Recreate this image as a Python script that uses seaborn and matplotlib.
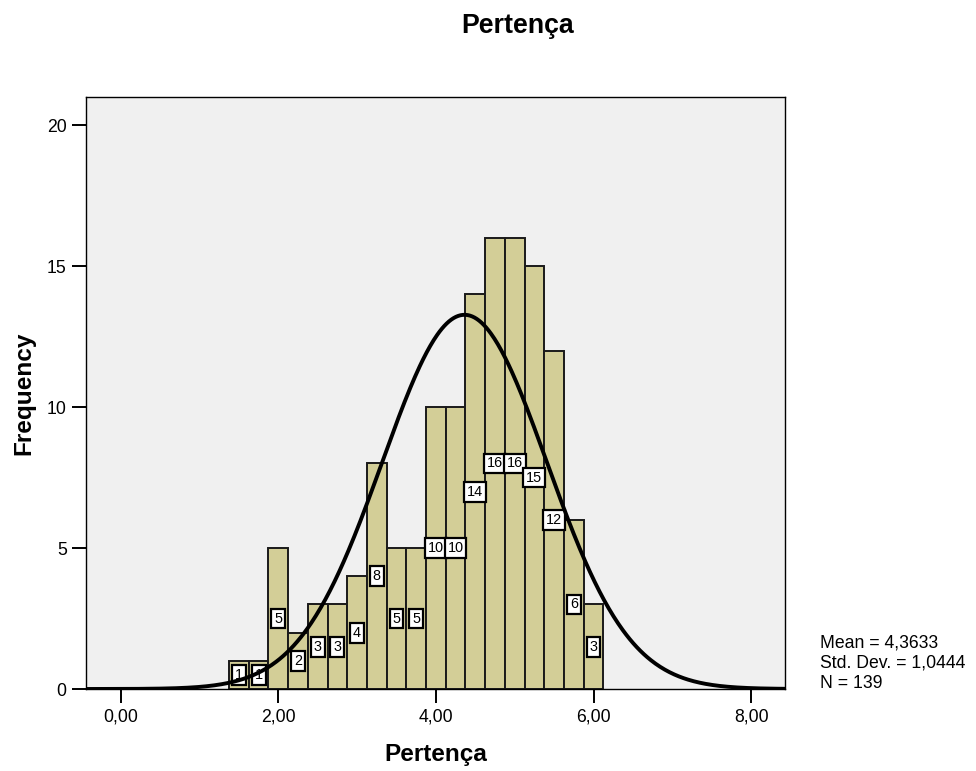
import numpy as np
import pandas as pd
import matplotlib
matplotlib.use("Agg")
import matplotlib.pyplot as plt
import seaborn as sns

# Data
bin_centers = [1.50, 1.75, 2.00, 2.25, 2.50, 2.75, 3.00, 3.25, 3.50, 3.75,
               4.00, 4.25, 4.50, 4.75, 5.00, 5.25, 5.50, 5.75, 6.00]
counts = [1, 1, 5, 2, 3, 3, 4, 8, 5, 5, 10, 10, 14, 16, 16, 15, 12, 6, 3]
x_ticks = [0, 2, 4, 6, 8]
x_tick_labels = ["0,00", "2,00", "4,00", "6,00", "8,00"]
y_ticks = [0, 5, 10, 15, 20]
mean_val = 4.3633
sd_val = 1.0444
n_val = 139
bin_width = 0.25
stats_lines = ["Mean = 4,3633", "Std. Dev. = 1,0444", f"N = {n_val}"]

sns.set_theme(style="white")
plt.rcParams['font.family'] = ['Liberation Sans', 'DejaVu Sans']
for k in ["text.color", "axes.labelcolor", "xtick.color", "ytick.color"]:
    plt.rcParams[k] = "black"

fig = plt.figure(figsize=(9.76, 7.71), dpi=100)
ax = fig.add_axes([86/976, 1 - 689/771, (785-86)/976, (689-97)/771])
ax.set_facecolor("#F0F0F0")

df = pd.DataFrame({"x": bin_centers, "w": counts})
sns.histplot(data=df, x="x", weights="w", binwidth=bin_width,
             binrange=(bin_centers[0] - bin_width/2, bin_centers[-1] + bin_width/2), ax=ax,
             color="#D3CE97", alpha=1, edgecolor="#1a1a1a", linewidth=1.4)

# value labels
for c, v in zip(bin_centers, counts):
    ax.text(c, v / 2, str(v), ha="center", va="center", fontsize=10.4, color="black",
            bbox=dict(boxstyle="square,pad=0.2", facecolor="white", edgecolor="black", linewidth=1.6),
            zorder=5)

# Normal curve
xs = np.linspace(-0.44, 8.43, 600)
ys = n_val * bin_width * np.exp(-0.5 * ((xs - mean_val) / sd_val) ** 2) / (sd_val * np.sqrt(2 * np.pi))
sns.lineplot(x=xs, y=ys, ax=ax, color="black", linewidth=2.8, zorder=6)

ax.set_xlim(-0.44, 8.43)
ax.set_ylim(0, 21)
ax.set_xticks(x_ticks)
ax.set_xticklabels(x_tick_labels, fontsize=12.7)
ax.set_yticks(y_ticks)
ax.set_yticklabels([str(t) for t in y_ticks], fontsize=12.7)
ax.tick_params(axis="both", direction="out", length=9.9, width=1.4, color="black",
               bottom=True, left=True, pad=4)
for s in ax.spines.values():
    s.set_visible(True)
    s.set_color("black")
    s.set_linewidth(1.0)

ax.set_xlabel("Pertença", fontsize=17.6, fontweight="bold", labelpad=13)
ax.set_ylabel("Frequency", fontsize=17.6, fontweight="bold", labelpad=8)
fig.text(518/976, 1 - 33/771, "Pertença", ha="center", va="baseline", fontsize=19.3, fontweight="bold")

for line, yb in zip(stats_lines, [647, 667.5, 688]):
    fig.text(820/976, 1 - yb/771, line, ha="left", va="baseline", fontsize=12.7)

fig.savefig("out.png", dpi=100)
